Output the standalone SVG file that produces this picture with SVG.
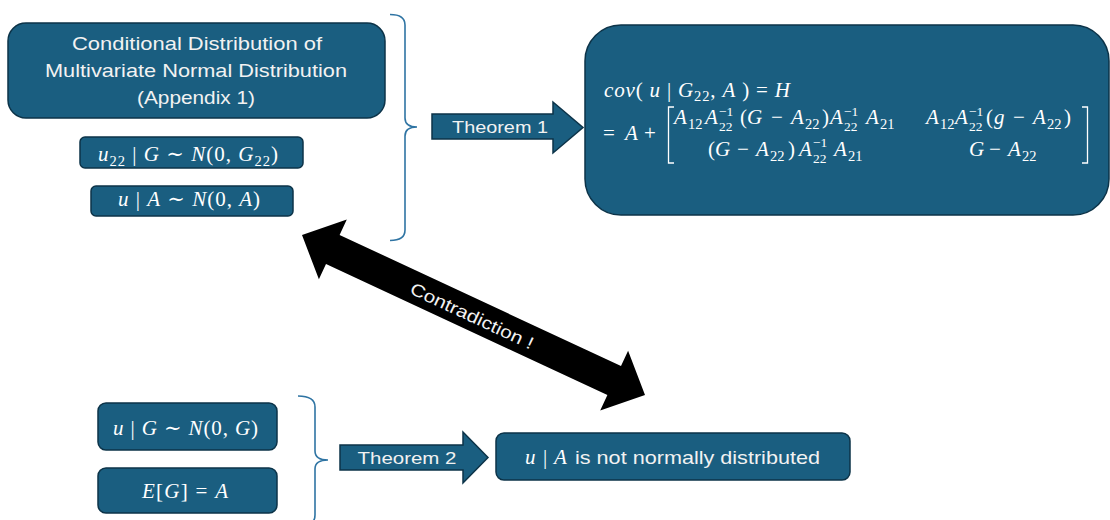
<svg xmlns="http://www.w3.org/2000/svg" width="1110" height="520" viewBox="0 0 1110 520">
<style>
.box{fill:#1a5e80;stroke:#0c3348;stroke-width:1.5}
.brace{fill:none;stroke:#2f74a3;stroke-width:1.6}
.sans{font-family:"Liberation Sans","Open Sans",sans-serif;fill:#f2f2f2}
.m{font-family:"Liberation Serif","DejaVu Serif",serif;font-style:italic;font-size:21px;fill:#ffffff}
.u{font-style:normal}
.s{font-style:normal;font-size:14.5px}
.t{font-style:normal;font-size:13.5px}
.brk{fill:none;stroke:#ffffff;stroke-width:1.3}
</style>
<rect width="1110" height="520" fill="#ffffff"/>

<g id="conditional-box">
<rect class="box" x="8" y="23" width="377" height="95" rx="18"/>
<text class="sans" font-size="19" text-anchor="middle" x="197" y="50" textLength="250" lengthAdjust="spacingAndGlyphs">Conditional Distribution of</text>
<text class="sans" font-size="19" text-anchor="middle" x="196" y="77" textLength="302" lengthAdjust="spacingAndGlyphs">Multivariate Normal Distribution</text>
<text class="sans" font-size="19" text-anchor="middle" x="196" y="104" textLength="118" lengthAdjust="spacingAndGlyphs">(Appendix 1)</text>
</g>

<g id="u22-box">
<rect class="box" x="80" y="137" width="223" height="31" rx="5"/>
<text class="m" x="98" y="161" textLength="180" lengthAdjust="spacing">u<tspan class="s" dy="5">22</tspan><tspan class="u" dy="-5"> | </tspan>G<tspan class="u"> ∼ </tspan>N<tspan class="u">(0, </tspan>G<tspan class="s" dy="5">22</tspan><tspan class="u" dy="-5">)</tspan></text>
</g>

<g id="uA-box">
<rect class="box" x="91" y="186" width="202" height="30" rx="5"/>
<text class="m" x="118" y="206" textLength="142" lengthAdjust="spacing">u<tspan class="u"> | </tspan>A<tspan class="u"> ∼ </tspan>N<tspan class="u">(0, </tspan>A<tspan class="u">)</tspan></text>
</g>

<g id="cov-box">
<rect class="box" x="585" y="25" width="524" height="190" rx="36"/>
<text class="m" x="604" y="97" textLength="186" lengthAdjust="spacing">cov<tspan class="u">( </tspan>u<tspan class="u"> | </tspan>G<tspan class="s" dy="4">22</tspan><tspan class="u" dy="-4">, </tspan>A<tspan class="u"> ) = </tspan>H</text>
<text class="m u" x="603" y="140">=</text>
<text class="m" x="625" y="140">A</text>
<text class="m u" x="644" y="140">+</text>
<path class="brk" d="M674,107 L668.5,107 L668.5,163 L674,163"/>
<path class="brk" d="M1082,107 L1087.5,107 L1087.5,163 L1082,163"/>
<!-- row 1 col 1 -->
<text class="m" x="674" y="124">A</text>
<text class="m s" x="688" y="129">12</text>
<text class="m" x="705" y="124">A</text>
<text class="m t" x="719" y="131">22</text>
<text class="m t" x="719" y="116">−1</text>
<text class="m u" x="740" y="124">(</text>
<text class="m" x="747" y="124">G</text>
<text class="m u" x="771" y="124">−</text>
<text class="m" x="791" y="124">A</text>
<text class="m s" x="805" y="129">22</text>
<text class="m u" x="822" y="124">)</text>
<text class="m" x="830" y="124">A</text>
<text class="m t" x="844" y="131">22</text>
<text class="m t" x="844" y="116">−1</text>
<text class="m" x="866" y="124">A</text>
<text class="m s" x="880" y="129">21</text>
<!-- row 2 col 1 -->
<text class="m u" x="708" y="156">(</text>
<text class="m" x="715" y="156">G</text>
<text class="m u" x="737" y="156">−</text>
<text class="m" x="756" y="156">A</text>
<text class="m s" x="770" y="161">22</text>
<text class="m u" x="788" y="156">)</text>
<text class="m" x="799" y="156">A</text>
<text class="m t" x="813" y="163">22</text>
<text class="m t" x="813" y="147">−1</text>
<text class="m" x="834" y="156">A</text>
<text class="m s" x="848" y="161">21</text>
<!-- row 1 col 2 -->
<text class="m" x="926" y="124">A</text>
<text class="m s" x="940" y="129">12</text>
<text class="m" x="955" y="124">A</text>
<text class="m t" x="969" y="131">22</text>
<text class="m t" x="969" y="116">−1</text>
<text class="m u" x="986" y="124">(</text>
<text class="m" x="994" y="124">g</text>
<text class="m u" x="1013" y="124">−</text>
<text class="m" x="1033" y="124">A</text>
<text class="m s" x="1047" y="129">22</text>
<text class="m u" x="1064" y="124">)</text>
<!-- row 2 col 2 -->
<text class="m" x="969" y="156">G</text>
<text class="m u" x="989" y="156">−</text>
<text class="m" x="1008" y="156">A</text>
<text class="m s" x="1022" y="161">22</text>
</g>

<g id="uG-box">
<rect class="box" x="98" y="403" width="179" height="47" rx="8"/>
<text class="m" x="113" y="435" textLength="145" lengthAdjust="spacing">u<tspan class="u"> | </tspan>G<tspan class="u"> ∼ </tspan>N<tspan class="u">(0, </tspan>G<tspan class="u">)</tspan></text>
</g>

<g id="EG-box">
<rect class="box" x="98" y="468" width="179" height="45" rx="8"/>
<text class="m" x="142" y="498" textLength="86" lengthAdjust="spacing">E<tspan class="u">[</tspan>G<tspan class="u">] = </tspan>A</text>
</g>

<g id="not-normal-box">
<rect class="box" x="496" y="433" width="354" height="47" rx="8"/>
<text class="m" x="525" y="464">u</text>
<text class="m u" x="543" y="464">|</text>
<text class="m" x="554" y="464">A</text>
<text class="sans" font-size="19" x="575" y="464" textLength="245" lengthAdjust="spacingAndGlyphs">is not normally distributed</text>
</g>

<g id="connectors">
<path class="brace" d="M390,14.5 Q405,14.5 405,25 L405,118 Q405,127 417,127 Q405,127 405,136 L405,230 Q405,240.5 390,240.5"/>
<path class="brace" d="M298,396 Q315,396 315,407 L315,451 Q315,460 328,460 Q315,460 315,469 L315,515 Q315,526 300,526"/>
<g id="theorem1-arrow">
<polygon class="box" points="432,114 553,114 553,102 583,127.5 553,153 553,139 432,139"/>
<text class="sans" font-size="17" text-anchor="middle" x="500" y="133" textLength="96" lengthAdjust="spacingAndGlyphs">Theorem 1</text>
</g>
<g id="theorem2-arrow">
<polygon class="box" points="340,445 463,445 463,432 488,457.5 463,483 463,470 340,470"/>
<text class="sans" font-size="17" text-anchor="middle" x="407" y="464" textLength="99" lengthAdjust="spacingAndGlyphs">Theorem 2</text>
</g>
<g id="contradiction-arrow">
<polygon fill="#000000" points="302,235 346.8,219.5 339.6,234.9 621,366.1 628.1,350.7 645,395 600.2,410.5 607.4,395.1 326,263.9 318.9,279.3"/>
<text class="sans" font-size="17.5" fill="#e6e6e6" text-anchor="middle" transform="translate(472,316) rotate(25)" x="0" y="6" textLength="134" lengthAdjust="spacingAndGlyphs">Contradiction !</text>
</g>
</g>
</svg>
